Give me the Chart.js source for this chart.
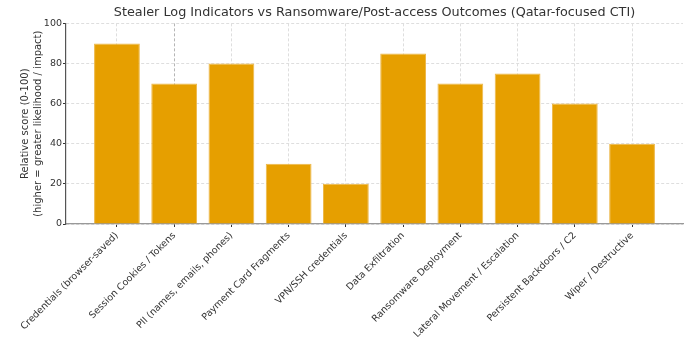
<!DOCTYPE html>
<html>
<head>
<meta charset="utf-8">
<script src="https://cdn.jsdelivr.net/npm/chart.js@4.4.1/dist/chart.umd.min.js"></script>
<style>
    html, body { margin: 0; padding: 0; background: #fff; }
    #wrap { width: 693px; height: 347px; }
</style>
</head>
<body>
<div id="wrap"><canvas id="scoreChart" width="693" height="347"></canvas></div>
<script>
// Stealer log indicators vs outcomes

const categories = [
    'Credentials (browser-saved)',
    'Session Cookies / Tokens',
    'PII (names, emails, phones)',
    'Payment Card Fragments',
    'VPN/SSH credentials',
    'Data Exfiltration',
    'Ransomware Deployment',
    'Lateral Movement / Escalation',
    'Persistent Backdoors / C2',
    'Wiper / Destructive'
];
const scores = [90, 70, 80, 30, 20, 85, 70, 75, 60, 40];
const yTicks = [0, 20, 40, 60, 80, 100];

const textColor = '#333';
const font = 'DejaVu Sans';

const ctx = document.getElementById('scoreChart').getContext('2d');
new Chart(ctx, {
    type: 'bar',
    data: {
        datasets: [{
            data: scores.map((v, i) => ({ x: i, y: v })),
            backgroundColor: '#E69F00',
            borderColor: '#EDB84A',
            borderWidth: 1,
            barPercentage: 0.8,
            categoryPercentage: 1
        }]
    },
    options: {
        responsive: false,
        animation: false,
        layout: { padding: { left: 0, right: 10, top: 0, bottom: 0 } },
        plugins: {
            legend: { display: false },
            tooltip: { enabled: false },
            title: {
                display: true,
                fullSize: false,
                text: 'Stealer Log Indicators vs Ransomware/Post-access Outcomes (Qatar-focused CTI)',
                color: textColor,
                font: { family: font, size: 12.8, weight: 'normal' },
                padding: { top: 5, bottom: 3 }
            }
        },
        scales: {
            x: {
                type: 'linear',
                offset: false,
                min: -0.89,
                max: 9.89,
                afterBuildTicks: (scale) => {
                    scale.ticks = categories.map((_, i) => ({ value: i }));
                },
                afterFit: (scale) => { scale.height = 123; },
                ticks: {
                    autoSkip: false,
                    maxRotation: 45,
                    minRotation: 45,
                    color: textColor,
                    font: { family: font, size: 9.5 },
                    callback: (v) => categories[v] ?? ''
                },
                grid: {
                    offset: false,
                    color: (c) => c.index === 1 ? '#b5b5b5' : '#dedede',
                    tickColor: '#333',
                    tickLength: 3
                },
                border: { display: true, color: '#999', width: 1.2, dash: [3, 2] }
            },
            y: {
                min: 0,
                max: 100,
                afterBuildTicks: (scale) => {
                    scale.ticks = yTicks.map(v => ({ value: v }));
                },
                afterFit: (scale) => { scale.width = 66; },
                ticks: {
                    color: textColor,
                    font: { family: font, size: 9.5 },
                    padding: 1
                },
                grid: {
                    color: '#dedede',
                    tickColor: '#333',
                    tickLength: 3
                },
                border: { display: true, color: '#555', width: 1.2, dash: [3, 2] },
                title: {
                    display: true,
                    text: ['Relative score (0-100)', '(higher = greater likelihood / impact)'],
                    color: textColor,
                    font: { family: font, size: 10, lineHeight: 1.3 },
                    padding: { top: 19, bottom: 0 }
                }
            }
        }
    }
});
</script>
</body>
</html>
